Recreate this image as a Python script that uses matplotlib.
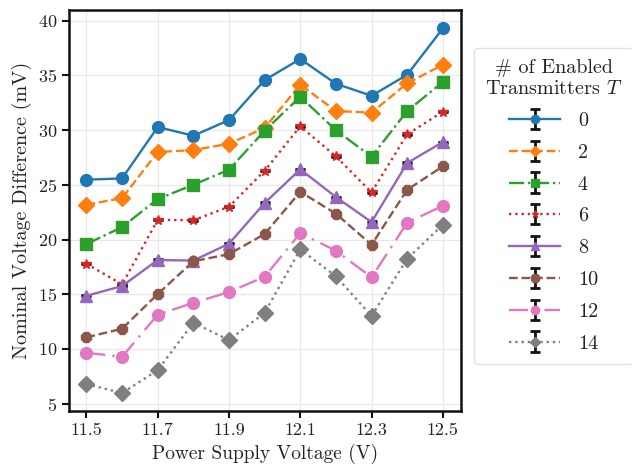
import matplotlib
matplotlib.use("Agg")
import matplotlib.pyplot as plt
import numpy as np

voltages = [11.5, 11.6, 11.7, 11.8, 11.9, 12.0, 12.1, 12.2, 12.3, 12.4, 12.5]
t0 = [25.47, 25.59, 30.28, 29.49, 30.92, 34.58, 36.50, 34.24, 33.14, 35.06, 39.30]
t2 = [23.18, 23.79, 28.00, 28.18, 28.76, 30.20, 34.15, 31.75, 31.60, 34.28, 35.98]
t4 = [19.59, 21.14, 23.70, 25.01, 26.38, 29.95, 33.05, 29.99, 27.57, 31.75, 34.40]
t6 = [17.79, 15.90, 21.81, 21.76, 23.00, 26.29, 30.35, 27.60, 24.31, 29.62, 31.68]
t8 = [14.86, 15.75, 18.13, 18.08, 19.62, 23.34, 26.42, 23.88, 21.60, 27.00, 28.91]
t10 = [11.06, 11.85, 15.02, 18.01, 18.67, 20.50, 24.37, 22.36, 19.52, 24.55, 26.69]
t12 = [9.65, 9.29, 13.13, 14.22, 15.20, 16.60, 20.59, 18.98, 16.55, 21.54, 23.09]
t14 = [6.79, 5.97, 8.07, 12.40, 10.81, 13.31, 19.10, 16.64, 13.01, 18.25, 21.35]
errors = [0.05] * len(voltages)

labels = ["0", "2", "4", "6", "8", "10", "12", "14"]
series = [t0, t2, t4, t6, t8, t10, t12, t14]
colors = ["#1f77b4", "#ff7f0e", "#2ca02c", "#d62728", "#9467bd", "#8c564b", "#e377c2", "#7f7f7f"]
markers = ["o", "D", "s", "*", "^", "8", "o", "D"]
styles = ["-", "--", "-.", ":", "-", "--", (0, (8, 3, 1, 3)), ":"]
msizes = [8.5, 8, 8, 7.5, 8.5, 8.5, 8.5, 8]

plt.rcParams.update({
    "font.family": "cmr10",
    "mathtext.fontset": "cm",
    "axes.unicode_minus": False,
    "axes.formatter.use_mathtext": True,
    "font.size": 13,
    "text.color": "#222222",
    "axes.labelcolor": "#222222",
    "xtick.color": "#222222",
    "ytick.color": "#222222",
})

fig = plt.figure(figsize=(6.32, 4.69), dpi=100)
ax = fig.add_axes([69/632, 1-411/469, (461-69)/632, (411-10)/469])

for y, lab, c, m, ls, ms in zip(series, labels, colors, markers, styles, msizes):
    ax.errorbar(voltages, y, yerr=errors, color=c, marker=m, linestyle=ls,
                linewidth=1.7, markersize=ms, ecolor="#111111", elinewidth=2,
                capsize=3.5, capthick=2, label=lab)

ax.set_xticks([11.5, 11.7, 11.9, 12.1, 12.3, 12.5])
ax.set_xticklabels(["11.5", "11.7", "11.9", "12.1", "12.3", "12.5"])
ax.set_yticks([5, 10, 15, 20, 25, 30, 35, 40])
ax.set_xlim(11.451, 12.551)
ax.set_ylim(4.33, 40.98)
ax.grid(True, which="major", color="#e8e8e8", linewidth=0.9)
ax.set_axisbelow(True)
ax.tick_params(which="major", length=5, width=1.5, color="#111111", labelsize=13)
for s in ax.spines.values():
    s.set_linewidth(1.8)
    s.set_color("#111111")

ax.set_xlabel("Power Supply Voltage (V)", fontsize=14)
ax.set_ylabel("Nominal Voltage Difference (mV)", fontsize=14.5)

leg = ax.legend(title="# of Enabled\nTransmitters $T$", loc="center left",
                bbox_to_anchor=(474/632, 1-206/469), bbox_transform=fig.transFigure,
                borderaxespad=0, fontsize=14.5, title_fontsize=14.5, frameon=True,
                fancybox=True, handlelength=2.5, handletextpad=0.9,
                labelspacing=0.68, borderpad=0.55, markerscale=0.7)
leg.get_frame().set_edgecolor("#dddddd")
leg.get_frame().set_linewidth(1.0)
leg.get_title().set_multialignment("center")

fig.savefig("out.png", dpi=100)
